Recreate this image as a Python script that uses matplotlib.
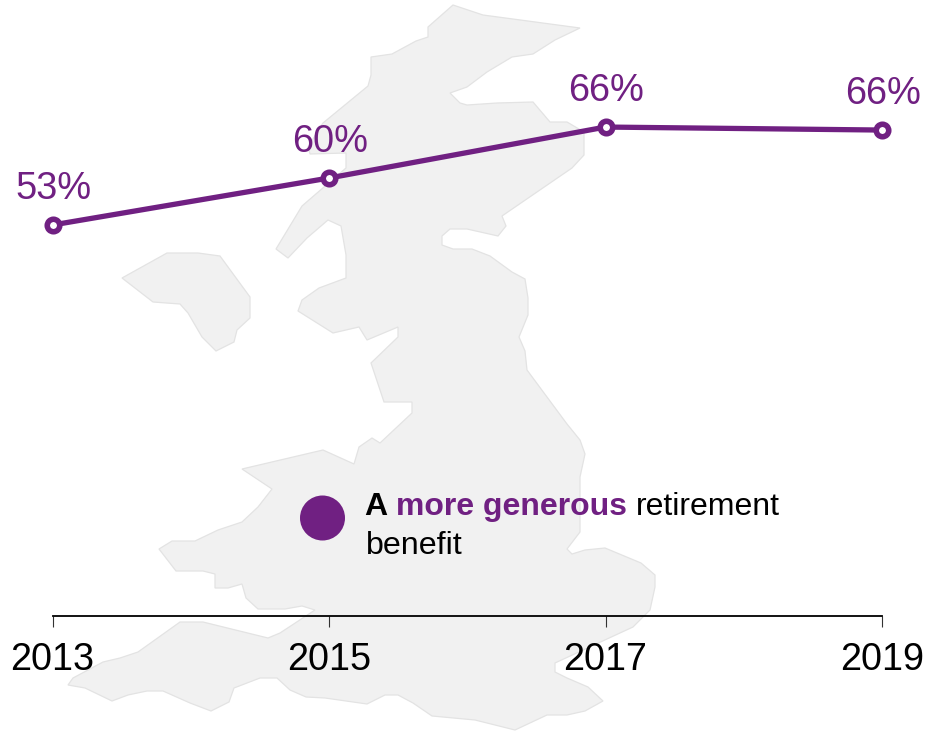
import matplotlib
matplotlib.use('Agg')
import matplotlib.pyplot as plt
from matplotlib.patches import Polygon, Circle

plt.rcParams['font.family'] = ['Liberation Sans', 'DejaVu Sans']

viola = '#702082'

anni = [2013, 2015, 2017, 2019]
valori = [53.45, 59.55, 66.17, 65.78]

# sagoma della mappa di sfondo, in pixel della figura
mappaX = [453, 483, 580, 555, 533, 512, 487, 467, 450, 460, 467, 497, 533, 550, 567, 584, 584, 572,
          502, 506, 498, 467, 450, 442, 442, 453, 472, 490, 512, 525, 528, 528, 519, 525, 527, 567,
          580, 585, 580, 580, 567, 572, 585, 605, 641, 655, 655, 650, 633, 555, 555, 567, 588, 603,
          585, 567, 547, 515, 475, 432, 413, 398, 385, 367, 325, 306, 290, 277, 260, 234, 229, 211,
          190, 163, 147, 128, 112, 85, 68, 73, 103, 120, 138, 180, 203, 268, 280, 315, 302, 285,
          258, 246, 242, 228, 215, 215, 203, 176, 159, 172, 195, 218, 242, 258, 272, 242, 323, 354,
          359, 372, 380, 412, 412, 384, 371, 398, 398, 367, 359, 333, 298, 302, 319, 346, 346, 341,
          328, 307, 288, 276, 302, 346, 346, 310, 308, 323, 368, 371, 371, 392, 416, 428, 428]
mappaY = [5, 15, 28, 40, 54, 57, 72, 87, 93, 103, 105, 103, 102, 122, 122, 132, 155, 168,
          216, 226, 236, 229, 229, 236, 245, 249, 249, 256, 272, 279, 298, 315, 337, 351, 370, 424,
          440, 454, 477, 532, 549, 554, 550, 548, 563, 575, 587, 610, 627, 663, 672, 678, 687, 701,
          711, 715, 715, 730, 720, 716, 703, 695, 695, 704, 698, 697, 690, 678, 678, 688, 702, 711,
          703, 691, 691, 695, 701, 688, 685, 678, 662, 658, 652, 622, 622, 638, 633, 610, 606, 609,
          609, 598, 584, 588, 588, 574, 571, 571, 549, 541, 541, 530, 522, 507, 489, 469, 450, 464,
          447, 438, 443, 413, 402, 402, 363, 337, 327, 340, 327, 333, 311, 300, 288, 278, 255, 226,
          220, 238, 258, 249, 206, 168, 153, 154, 147, 123, 86, 75, 57, 54, 41, 37, 27]
isolaX = [122, 167, 198, 220, 250, 250, 237, 234, 216, 202, 188, 180, 153]
isolaY = [278, 253, 253, 256, 297, 318, 330, 342, 351, 337, 313, 304, 302]

fig = plt.figure(figsize=(9.27, 7.31), dpi=100)

# sfondo a tutta figura: mappa, pallino e testo della nota
sfondo = fig.add_axes([0, 0, 1, 1])
sfondo.set_xlim(0, 927)
sfondo.set_ylim(731, 0)
sfondo.axis('off')
for xs, ys in [(mappaX, mappaY), (isolaX, isolaY)]:
    sfondo.add_patch(Polygon(list(zip(xs, ys)), closed=True, facecolor='#f1f1f1',
                             edgecolor='#e3e3e3', linewidth=0.9))

sfondo.add_patch(Circle((322.5, 518), 22.5, facecolor=viola, edgecolor='none'))

# nota su due righe, la prima a pezzi per avere grassetto e colori diversi
x = 364.5
for testo, colore, peso, spazio in [('A', 'black', 'bold', 8), ('more generous', viola, 'bold', 9),
                                    ('retirement', 'black', 'normal', 0)]:
    t = sfondo.text(x, 515, testo, color=colore, fontweight=peso, fontsize=23.0, va='baseline')
    x = t.get_window_extent(fig.canvas.get_renderer()).x1 + spazio
sfondo.text(366, 554, 'benefit', color='black', fontsize=23.2, va='baseline')

# grafico vero e proprio
ax = fig.add_axes([52.5 / 927, (731 - 616) / 731, (882 - 52.5) / 927, 616 / 731])
ax.patch.set_alpha(0)
ax.plot(anni, valori, '-o', color=viola, linewidth=3.8, markersize=9.0,
        markerfacecolor='white', markeredgecolor=viola, markeredgewidth=4.0, clip_on=False)
for a, v in zip(anni, valori):
    ax.annotate(f'{v:.0f}%', (a, v), xytext=(0.5, 18.9), textcoords='offset points',
                ha='center', va='baseline', color=viola, fontsize=27.4)

ax.set_xlim(2013, 2019)
ax.set_ylim(2.67, 82.67)
ax.set_xticks(anni)
ax.set_yticks([])
ax.tick_params(axis='x', length=8, width=0.8, color='#333333', pad=11, labelsize=27.2, labelcolor='black')
for lato in ['top', 'left', 'right']:
    ax.spines[lato].set_visible(False)
ax.spines['bottom'].set_linewidth(1.3)
ax.spines['bottom'].set_color('black')

fig.savefig('out.png', dpi=100)
